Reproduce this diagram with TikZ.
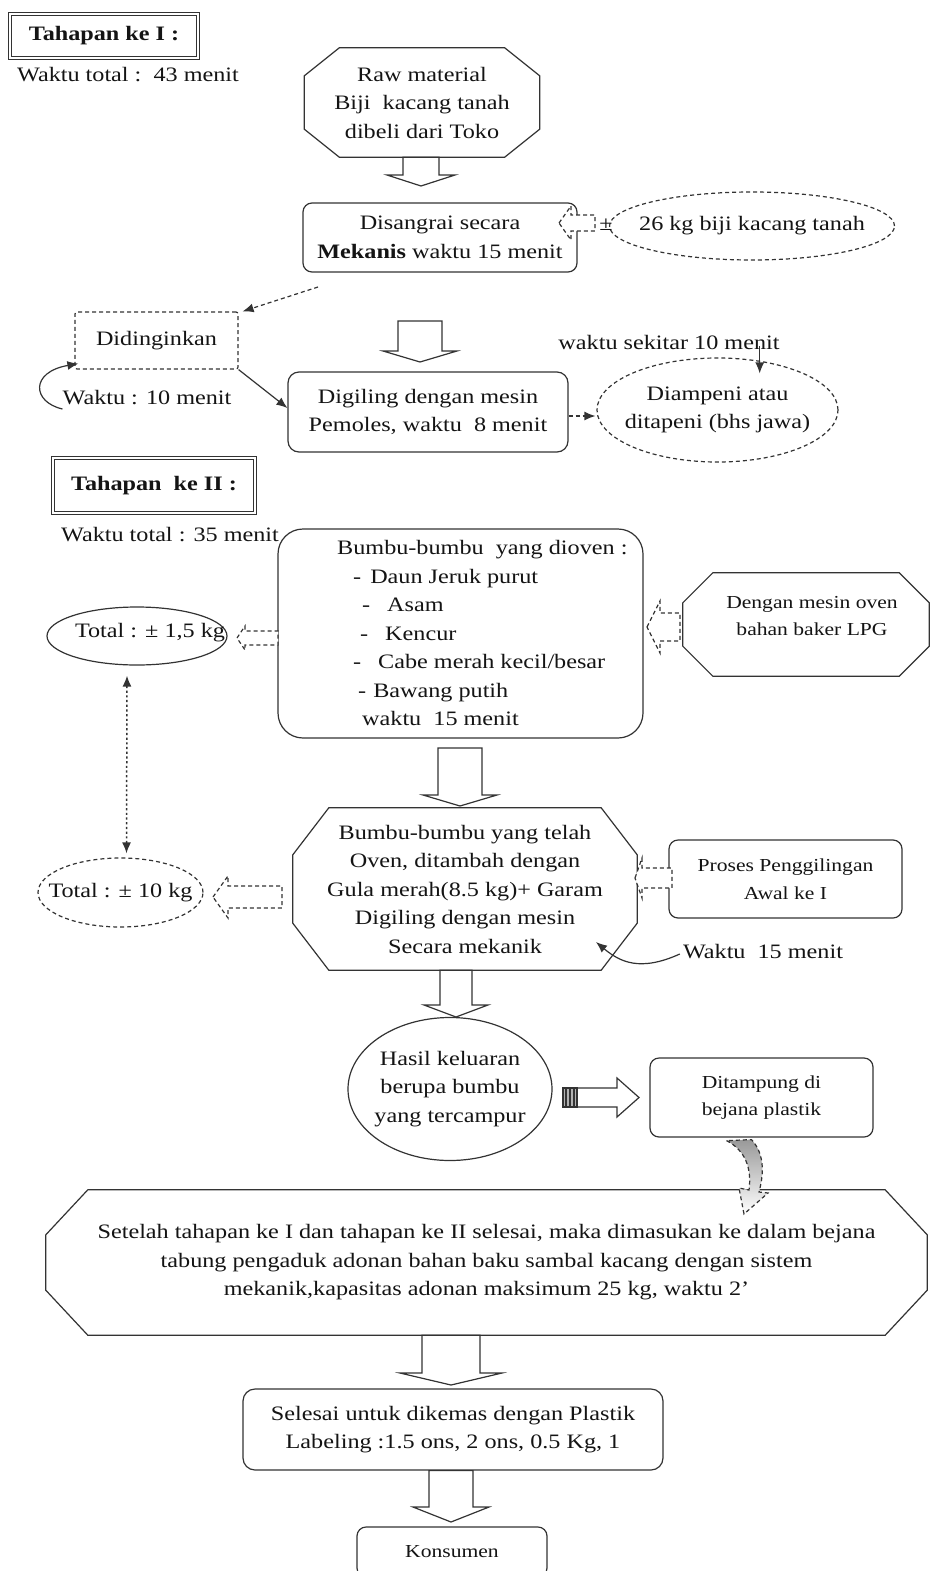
\documentclass[tikz,border=0pt]{standalone}
\usepackage{fontspec}
\setmainfont{Liberation Serif}[FakeStretch=1.18]
\usetikzlibrary{calc,arrows.meta,shapes.geometric}
\newcommand\mainf{\fontsize{20.5}{28.5}\selectfont}
\newcommand\smallf{\fontsize{18.3}{27.5}\selectfont}
\newcommand\octo[4]{\draw[#4] ($(#1.north west)+(#2,0)$) -- ($(#1.north east)+(-#2,0)$) -- ($(#1.north east)+(0,#3)$) -- ($(#1.south east)+(0,-#3)$) -- ($(#1.south east)+(-#2,0)$) -- ($(#1.south west)+(#2,0)$) -- ($(#1.south west)+(0,-#3)$) -- ($(#1.north west)+(0,#3)$) -- cycle;}
\newcommand\blockdown[6]{\draw[ln,#6] ($(#1)+(-#3,0)$) -- ($(#2)+(-#3,-#5)$) -- ($(#2)+(-#4,-#5)$) -- (#2) -- ($(#2)+(#4,-#5)$) -- ($(#2)+(#3,-#5)$) -- ($(#1)+(#3,0)$) -- cycle;}
\newcommand\blockleft[6]{\draw[ln,#6] (#1) -- ($(#1)+(#5,-#4)$) -- ($(#1)+(#5,-#3)$) -- ($(#1)+(#2,-#3)$) -- ($(#1)+(#2,#3)$) -- ($(#1)+(#5,#3)$) -- ($(#1)+(#5,#4)$) -- cycle;}
\begin{document}
\begin{tikzpicture}[x=1pt,y=-1pt,
  every node/.style={font=\mainf, text=black!92},
  ln/.style={line width=1.2pt, draw=black!80},
  txt/.style={inner sep=0pt, align=center},
  plain/.style={inner sep=0pt, align=center},
  rbox/.style={ln, draw, rounded corners=9pt, inner sep=0pt, align=center},
  rect/.style={ln, draw, rounded corners=2pt, inner sep=0pt, align=center},
  ell/.style={ellipse, ln, draw, inner sep=0pt, inner xsep=-30pt, inner ysep=-5pt, align=center},
  dsh/.style={dash pattern=on 4pt off 3pt},
  dotd/.style={dash pattern=on 2.2pt off 2.5pt},
  arr/.style={-{Latex[length=11pt,width=9pt]}},
  tahap/.style={draw=black!80, line width=1.2pt, double=white, double distance=2.5pt, inner sep=0pt, font=\mainf\bfseries}]
\useasboundingbox (0,0) rectangle (929,1571);
\fill[white] (0,0) rectangle (929,1571);

% ---------- Tahapan I ----------
\node[tahap, minimum width=188pt, minimum height=44pt] (tah1) at (104,36) {Tahapan ke I :};
\node[txt] (wt43) at (128,75) {Waktu total :\ \ 43 menit};

\node[plain, minimum width=235pt, minimum height=109pt] (raw) at (422,102.5) {Raw material\\Biji\ \ kacang tanah\\dibeli dari Toko};
\octo{raw}{35}{28}{ln}

\node[rbox, minimum width=274pt, minimum height=69pt] (dis) at (440,237.5) {Disangrai secara\\\textbf{Mekanis} waktu 15 menit};
\coordinate (a1) at (421,186);
\blockdown{a1 |- raw.south}{a1}{18}{34}{11}{}

\node[ell, dsh, minimum width=285pt, minimum height=68pt] (kg) at (752,226) {26 kg biji kacang tanah};
\coordinate (a26) at (559,223);
\blockleft{a26}{36}{8}{17}{12}{dsh, fill=white}
\node[txt] (pm) at (606,225) {±};

\node[rect, dsh, minimum width=163pt, minimum height=57pt] (did) at (156.5,340.5) {Didinginkan};
\coordinate (c1) at (318,287);
\draw[ln, dsh, arr] (c1) -- ($(did.north east)+(4,0)$);
\node[txt] (wk10) at (147,398) {Waktu : 10 menit};
\draw[ln, arr] ($(wk10.west)+(0,11)$) .. controls (32,402) and (30,372) .. ($(did.south west)+(4,-6)$);

\coordinate (a2t) at (420,321);
\coordinate (a2) at (420,362);
\blockdown{a2t}{a2}{22}{37}{11}{}

\node[rbox, rounded corners=11pt, minimum width=280pt, minimum height=80pt] (dig) at (428,412) {Digiling dengan mesin\\Pemoles, waktu\ \ 8 menit};
\draw[ln, arr] (did.south east) -- ($(dig.west)+(0,-4)$);

\node[ell, dsh, minimum width=241pt, minimum height=104pt] (amp) at (717.5,410) {Diampeni atau\\ditapeni (bhs jawa)};
\draw[ln, dsh, arr] ($(dig.east)+(0,4)$) -- ($(amp.west)+(-1,6)$);
\node[txt] (wsk) at (669,342) {waktu sekitar 10 menit};
\draw[ln, arr] ($(wsk.south east)+(-20,-3)$) -- ++(0,27);

% ---------- Tahapan II ----------
\node[tahap, minimum width=202pt, minimum height=55pt] (tah2) at (154,485.5) {Tahapan\ \ ke II :};
\node[txt] (wt35) at (170,535) {Waktu total : 35 menit};

\node[rbox, rounded corners=25pt, minimum width=365pt, minimum height=209pt] (bumbu) at (460.5,633.5) {};
\node[txt, align=left, anchor=west] (bumbut) at (337,633) {Bumbu-bumbu\ \ yang dioven :\\
\hspace*{16pt}-\hspace{9pt}Daun Jeruk purut\\
\hspace*{25pt}-\hspace{17pt}Asam\\
\hspace*{23pt}-\hspace{17pt}Kencur\\
\hspace*{16pt}-\hspace{17pt}Cabe merah kecil/besar\\
\hspace*{21pt}-\hspace{7pt}Bawang putih\\
\hspace*{25pt}waktu\ \ 15 menit};

\node[plain, minimum width=246pt, minimum height=103pt] (oven) at (806,624.5) {};
\octo{oven}{30}{30}{ln}
\node[txt, font=\smallf] (ovent) at (812,616) {Dengan mesin oven\\bahan baker LPG};
\coordinate (aov) at (647,627);
\blockleft{aov}{33}{14}{26}{13}{dsh, fill=white}

\node[ell, minimum width=180pt, minimum height=58pt] (t15) at (137,636) {};
\node[txt] (t15t) at (150,633) {Total : ± 1,5 kg};
\coordinate (a15) at (237,638);
\blockleft{a15}{41}{7}{12}{8}{dsh, fill=white}

\node[ell, dsh, minimum width=165pt, minimum height=69pt] (t10) at (120.5,892.5) {Total : ± 10 kg};
\draw[ln, line width=1.5pt, dotd, {Latex[length=11pt,width=9pt]}-{Latex[length=11pt,width=9pt]}] ($(t15.south)+(-10,10)$) -- ($(t10.north)+(6,-4)$);

\coordinate (a3t) at (460,748);
\coordinate (a3) at (460,806);
\blockdown{a3t}{a3}{22}{37}{11}{}

\node[plain, minimum width=344pt, minimum height=162pt] (oct2) at (465,889) {Bumbu-bumbu yang telah\\Oven, ditambah dengan\\Gula merah(8.5 kg)+ Garam\\Digiling dengan mesin\\Secara mekanik};
\octo{oct2}{36}{47}{ln}
\coordinate (a10) at (213,897);
\blockleft{a10}{69}{11}{21}{15}{dsh, fill=white}

\node[rbox, font=\smallf, minimum width=233pt, minimum height=78pt] (pro) at (785.5,879) {Proses Penggilingan\\Awal ke I};
\coordinate (apro) at (635,878);
\blockleft{apro}{37}{10}{20}{7}{dsh, fill=white}
\node[txt] (wk15) at (763,952) {Waktu\ \ 15 menit};
\draw[ln, arr] ($(wk15.west)+(-3,2)$) .. controls (640,972) and (620,962) .. (596,942);

\coordinate (a4) at (456,1017);
\blockdown{a4 |- oct2.south}{a4}{16}{32}{12}{}

\node[ell, minimum width=204pt, minimum height=143pt] (hasil) at (450,1089) {Hasil keluaran\\berupa bumbu\\yang tercampur};
\node[rbox, font=\smallf, minimum width=223pt, minimum height=79pt] (dit) at (761.5,1097.5) {Ditampung di\\bejana plastik};
\coordinate (a5) at (639,1097.5);
\blockleft{a5}{-76}{9.5}{19.5}{-22}{fill=white}
\fill[gray!60] (563,1088) rectangle (577,1107);
\draw[ln, line width=1.3pt] (566,1088) -- (566,1107) (570,1088) -- (570,1107) (574,1088) -- (574,1107) (577,1088) -- (577,1107);
\draw[ln] (563,1088) rectangle (577,1107);

% ---------- Final ----------
\node[plain, minimum width=881pt, minimum height=145pt] (set) at (486.5,1262.5) {Setelah tahapan ke I dan tahapan ke II selesai, maka dimasukan ke dalam bejana\\tabung pengaduk adonan bahan baku sambal kacang dengan sistem\\mekanik,kapasitas adonan maksimum 25 kg, waktu 2’};
\octo{set}{42}{45}{ln}

\draw[ln, dsh, top color=gray!80, bottom color=white] ($(dit.south)+(-35,3)$) .. controls (745,1150) and (752,1168) .. (749,1190) -- (739,1188) -- (744,1214) -- (768,1193) -- (759,1192) .. controls (765,1170) and (763,1152) .. ($(dit.south)+(-10,2)$) -- cycle;

\coordinate (a6) at (451,1385);
\blockdown{a6 |- set.south}{a6}{29}{51}{12}{}
\node[rbox, rounded corners=12pt, minimum width=420pt, minimum height=81pt] (sel) at (453,1429.5) {Selesai untuk dikemas dengan Plastik\\Labeling :1.5 ons, 2 ons, 0.5 Kg, 1};
\coordinate (a7) at (451,1522);
\blockdown{a7 |- sel.south}{a7}{22}{38}{15}{}
\node[rbox, font=\smallf, minimum width=190pt, minimum height=50pt] (kons) at (452,1552) {Konsumen};
\end{tikzpicture}
\end{document}
